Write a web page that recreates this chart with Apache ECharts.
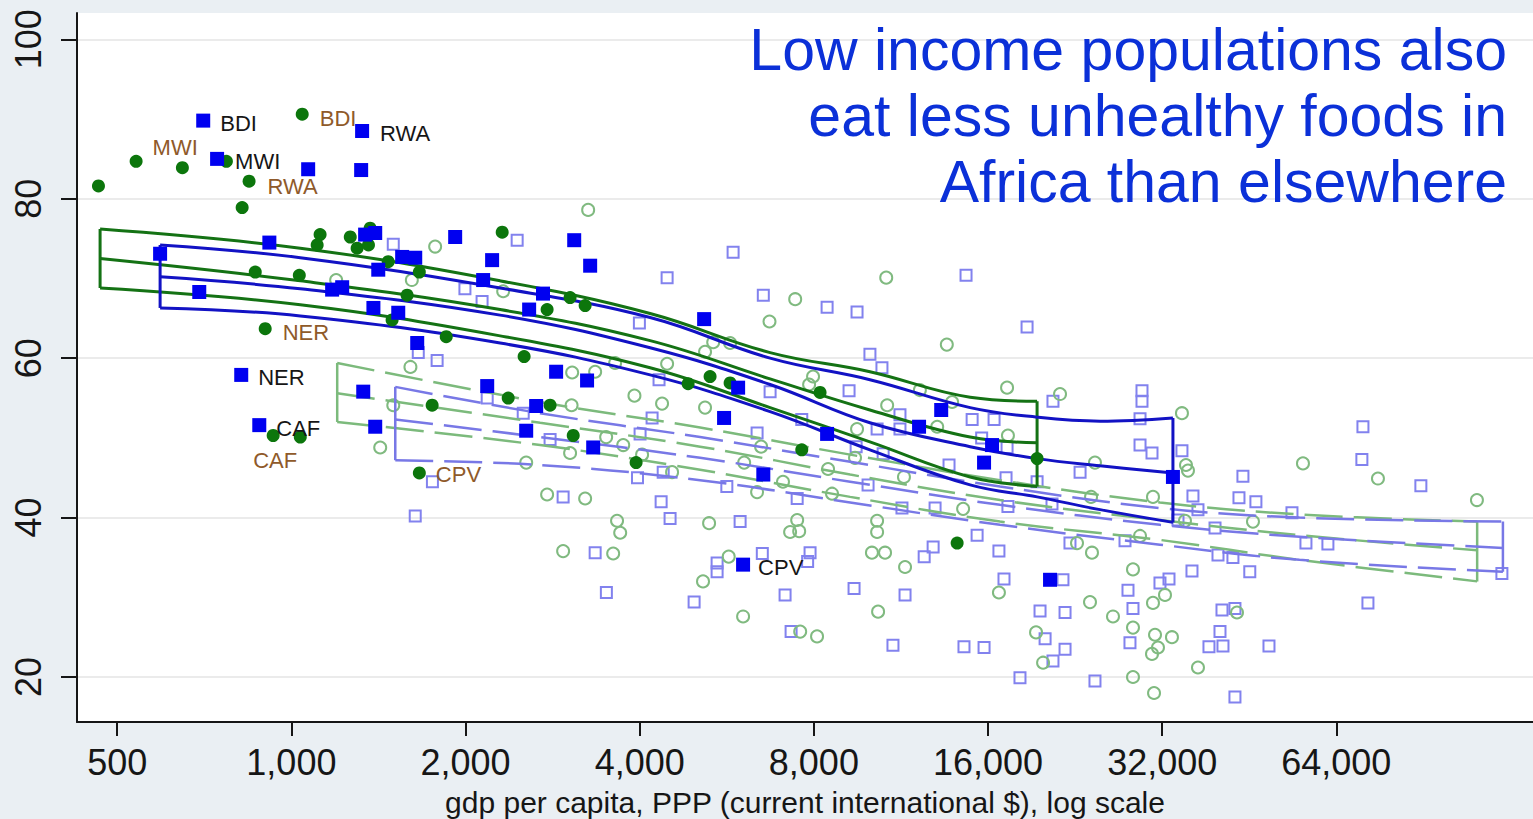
<!DOCTYPE html>
<html>
<head>
<meta charset="utf-8">
<title>Diet quality and income</title>
<script src="https://cdn.jsdelivr.net/npm/echarts@6/dist/echarts.min.js"></script>
<style>
  html, body { margin: 0; padding: 0; background: #eaeff3; }
  #chart { width: 1533px; height: 819px; }
</style>
</head>
<body>
<div id="chart"></div>
<script>
// ---- Axis ticks ----------------------------------------------------------
const xTicks = [500, 1000, 2000, 4000, 8000, 16000, 32000, 64000];
const yTicks = [20, 40, 60, 80, 100];
const xTitle = 'gdp per capita, PPP (current international $), log scale';
const headlineLines = ['Low income populations also', 'eat less unhealthy foods in', 'Africa than elsewhere'];

// ---- African countries: [gdp per capita, score, country code] ---------------
const africaSquares = [
  [704, 89.8, 'BDI'], [744, 85.0, 'MWI'], [1069, 83.7], [1325, 88.5, 'RWA'], [1320, 83.6],
  [916, 74.5], [593, 73.1], [693, 68.3], [1341, 75.5], [1396, 75.7], [1919, 75.2],
  [1554, 72.7], [1637, 72.6], [2223, 72.3], [1413, 71.1], [2145, 69.8], [1176, 68.6],
  [1224, 68.9], [1386, 66.3], [1530, 65.7], [2576, 66.1], [1650, 61.9], [3082, 74.8],
  [3284, 71.6], [2722, 68.1], [5169, 64.9], [2868, 58.3], [3244, 57.2], [2180, 56.5],
  [1331, 55.8], [1396, 51.4], [2649, 54.0], [2546, 50.9], [3324, 48.8], [819, 57.9, 'NER'],
  [880, 51.6, 'CAF'], [5918, 56.3], [5596, 52.5], [6542, 45.4], [6036, 34.1, 'CPV'],
  [8433, 50.5], [12160, 51.4], [13280, 53.5], [16260, 49.1], [15750, 46.9], [33400, 45.1],
  [20480, 32.2]
];
const africaDots = [
  [464, 81.6], [539, 84.7, 'MWI'], [648, 83.9], [772, 84.7], [845, 82.2, 'RWA'], [822, 78.9],
  [1044, 90.6, 'BDI'], [1121, 75.5], [1108, 74.2], [1264, 75.2], [1299, 73.8], [1359, 74.2],
  [1368, 76.3], [1470, 72.1], [1664, 70.8], [2314, 75.8], [866, 70.8], [1032, 70.4],
  [1585, 67.9], [1493, 64.8], [1852, 62.7], [901, 63.7, 'NER'], [2525, 60.2], [1751, 54.1],
  [2370, 55.0], [2800, 54.1], [930, 50.3, 'CAF'], [1036, 50.1], [1664, 45.6, 'CPV'],
  [3032, 67.6], [2767, 66.1], [3219, 66.6], [3070, 50.3], [3943, 46.9], [4850, 56.8],
  [5293, 57.7], [5732, 56.9], [8200, 55.7], [7624, 48.5], [14150, 36.8], [19450, 47.4]
];

// ---- Rest of the world: [gdp per capita, score] ------------------------------
const otherSquares = [
  [1500, 74.3], [2456, 74.8], [1995, 68.7], [2136, 67.1], [1657, 60.7], [1786, 59.7], [2180, 55.0],
  [1753, 44.5], [1637, 40.2], [5801, 73.3], [4461, 70.1], [6542, 67.9], [8433, 66.4], [9500, 65.8],
  [14660, 70.4], [3995, 64.4], [10000, 60.5], [10490, 58.8], [18690, 63.9], [4320, 57.3],
  [6721, 55.8], [9203, 55.9], [11270, 52.9], [11270, 51.1], [10290, 51.1], [15020, 52.3],
  [16390, 52.3], [7624, 52.3], [4202, 52.5], [4006, 50.5], [6382, 50.6], [2800, 49.8],
  [2516, 53.1], [4392, 45.7], [3965, 45.0], [5658, 43.9], [7486, 42.4], [9926, 44.1],
  [10540, 48.0], [9466, 48.9], [13700, 46.6], [11360, 41.2], [12960, 41.2], [17320, 41.4],
  [2949, 42.6], [4356, 42.0], [4514, 39.9], [5965, 39.5], [3350, 35.6], [6516, 35.5],
  [7880, 35.6], [7804, 34.5], [5443, 34.3], [5443, 33.2], [12410, 35.1], [12860, 36.3],
  [15320, 37.8], [16710, 35.8], [17050, 32.3], [3503, 30.6], [4967, 29.4], [7134, 30.3],
  [9388, 31.1], [11500, 30.3], [7307, 25.7], [10960, 24.0], [14540, 23.8], [15750, 23.7],
  [18170, 19.9], [15600, 50.0], [17260, 48.8], [17190, 45.0], [20720, 54.6], [29530, 55.9],
  [29530, 54.6], [29300, 52.4], [29300, 49.1], [30730, 48.1], [34620, 48.4], [23080, 45.7],
  [19450, 44.5], [20640, 41.7], [36170, 42.7], [36900, 41.0], [34080, 39.7], [27600, 37.1],
  [22170, 36.8], [21560, 32.2], [19680, 28.3], [21740, 28.1], [20080, 24.8], [21740, 23.5],
  [20720, 22.0], [24490, 19.5], [27930, 30.9], [28490, 28.6], [28150, 24.3], [31720, 31.8],
  [32880, 32.3], [36030, 33.3], [39490, 38.7], [39960, 35.3], [42410, 35.0], [45350, 33.2],
  [40600, 28.4], [42750, 28.6], [40280, 25.7], [38550, 23.8], [40760, 23.9], [48950, 23.9],
  [42750, 17.5], [53640, 40.6], [56710, 36.8], [61890, 36.7], [72580, 29.3], [123700, 33.0],
  [71150, 51.4], [70850, 47.3], [89600, 44.0], [44130, 45.2], [43440, 42.5], [46470, 42.0]
];
const otherDots = [
  [1772, 74.0], [1195, 69.8], [1615, 69.8], [2323, 68.4], [1606, 58.9], [1500, 54.1], [1424, 48.8],
  [3258, 78.6], [3057, 58.2], [3350, 58.3], [3627, 59.4], [4461, 59.3], [3917, 55.3], [4372, 54.3],
  [5188, 53.8], [3050, 54.1], [5359, 62.0], [5732, 61.9], [5188, 60.8], [7427, 67.4], [6705, 64.6],
  [10670, 70.1], [13580, 61.7], [12200, 56.0], [13870, 54.5], [17260, 56.3], [7974, 57.7],
  [7850, 56.7], [9500, 51.1], [10710, 54.1], [13070, 51.4], [3500, 50.1], [3032, 48.1],
  [3746, 49.1], [4038, 47.9], [2546, 46.9], [2767, 42.9], [3219, 42.4], [3655, 39.6], [3701, 38.1],
  [2949, 35.8], [3599, 35.5], [5272, 39.3], [4550, 45.7], [6062, 46.9], [6485, 48.9], [6382, 43.2],
  [7075, 44.5], [7486, 39.7], [7546, 38.3], [7278, 38.2], [8465, 46.1], [8600, 43.0], [10290, 39.6],
  [10290, 38.2], [10080, 35.6], [10620, 35.6], [11500, 33.8], [9424, 47.5], [11450, 45.1],
  [14490, 41.1], [16710, 30.6], [10330, 28.2], [5700, 35.1], [5146, 32.0], [6036, 27.6],
  [7576, 25.7], [8102, 25.1], [17320, 50.3], [21310, 55.5], [34620, 53.1], [24490, 46.9],
  [35180, 46.6], [35460, 45.9], [30850, 42.6], [24110, 42.6], [29300, 37.7], [22800, 36.8],
  [24200, 35.6], [45930, 39.5], [35040, 39.6], [28490, 33.5], [24010, 29.4], [26310, 27.6],
  [28490, 26.2], [30850, 29.3], [32360, 30.3], [19370, 25.6], [19920, 21.8], [31100, 25.3],
  [33270, 25.0], [31470, 23.7], [30730, 22.9], [28490, 20.0], [30980, 18.0], [36900, 21.2],
  [43100, 28.1], [56040, 46.8], [75530, 44.9], [112000, 42.2]
];

// ---- Local fits with confidence bands ----------------------------------------
const africaDotsFitGdp   = [467, 1036, 2295, 4169, 6721, 10000, 14900, 19450];
const africaDotsUpper    = [76.2, 73.8, 69.7, 65.6, 60.7, 58.3, 55.1, 54.6];
const africaDotsFit      = [72.5, 69.7, 66.1, 62.2, 57.4, 53.5, 50.1, 49.4];
const africaDotsLower    = [68.8, 66.7, 62.8, 58.8, 53.8, 49.5, 45.1, 43.9];

const africaSquaresFitGdp = [593, 1036, 2295, 4169, 6721, 10000, 14900, 19450, 24990, 33400];
const africaSquaresUpper  = [74.2, 72.6, 68.8, 65.1, 60.0, 57.3, 53.8, 52.6, 52.1, 52.5];
const africaSquaresFit    = [70.2, 68.7, 65.4, 61.3, 56.7, 51.9, 48.9, 47.4, 46.5, 45.6];
const africaSquaresLower  = [66.3, 65.3, 61.9, 57.9, 53.3, 48.5, 44.1, 42.6, 41.0, 39.4];

const otherDotsFitGdp = [1200, 2691, 5087, 9243, 16780, 31720, 55260, 112100];
const otherDotsUpper  = [59.4, 54.5, 51.3, 47.9, 44.7, 41.9, 40.4, 39.5];
const otherDotsFit    = [55.6, 51.9, 48.9, 45.4, 42.2, 39.7, 37.8, 35.9];
const otherDotsLower  = [52.0, 49.1, 46.0, 42.6, 39.5, 37.2, 34.7, 32.0];

const otherSquaresFitGdp = [1512, 2691, 5087, 9243, 16780, 31720, 55260, 124200];
const otherSquaresUpper  = [56.4, 53.1, 50.1, 47.0, 43.9, 41.2, 40.0, 39.5];
const otherSquaresFit    = [52.3, 50.1, 47.5, 44.5, 41.6, 39.1, 37.6, 36.2];
const otherSquaresLower  = [47.2, 46.6, 44.7, 41.9, 39.1, 36.6, 34.7, 33.2];

// ---- Styling ----------------------------------------------------------------
const FONT = '"Liberation Sans", Arial, Helvetica, sans-serif';
const INK = '#161616';
const C = {
  afrSq: '#0000f0', afrDot: '#0c760c',
  othSq: '#8282ee', othDot: '#80ba80',
  afrSqLine: '#1212c4', afrDotLine: '#147214',
  othSqLine: '#7878e6', othDotLine: '#7cba7c',
  codeSq: INK, codeDot: '#8f5a2a',
  headline: '#0b30d8'
};

// where each country code sits relative to its marker
const squareCodePlacement = {
  BDI: { position: 'right', distance: 10, offset: [0, 3] },
  MWI: { position: 'right', distance: 11, offset: [0, 3] },
  RWA: { position: 'right', distance: 11, offset: [0, 3] },
  NER: { position: 'right', distance: 10, offset: [0, 3] },
  CAF: { position: 'right', distance: 10, offset: [0, 3] },
  CPV: { position: 'right', distance: 8, offset: [0, 3] }
};
const dotCodePlacement = {
  BDI: { position: 'right', distance: 11, offset: [0, 4] },
  MWI: { position: 'right', distance: 10, offset: [0, -14] },
  RWA: { position: 'right', distance: 12, offset: [0, 5] },
  NER: { position: 'right', distance: 11, offset: [0, 4] },
  CAF: { position: 'bottom', distance: 8, offset: [2, 0] },
  CPV: { position: 'right', distance: 10, offset: [0, 2] }
};

function toItems(rows, placement, color) {
  return rows.map(r => {
    const item = { value: [r[0], r[1]] };
    if (r[2]) {
      item.name = r[2];
      item.label = Object.assign({
        show: true, formatter: r[2], color: color,
        fontSize: 22, fontFamily: FONT
      }, placement[r[2]]);
    }
    return item;
  });
}

function scatter(name, data, symbol, size, style, z) {
  return {
    name, type: 'scatter', data, symbol, symbolSize: size,
    itemStyle: Object.assign({ opacity: 1 }, style), z, silent: true, label: { show: false }
  };
}

function band(name, gdp, upper, fit, lower, color, width, dashed, z) {
  const zip = ys => gdp.map((g, i) => [g, ys[i]]);
  const n = gdp.length - 1;
  const curve = { color, width, type: dashed ? [38, 11] : 'solid', cap: 'butt' };
  const edge = { color, width, type: 'solid' };
  const base = { type: 'line', symbol: 'none', showSymbol: false, silent: true, z };
  return [
    Object.assign({ name: name + ' upper', data: zip(upper), smooth: 0.4, lineStyle: curve }, base),
    Object.assign({ name: name + ' fit',   data: zip(fit),   smooth: 0.4, lineStyle: curve }, base),
    Object.assign({ name: name + ' lower', data: zip(lower), smooth: 0.4, lineStyle: curve }, base),
    Object.assign({ name: name + ' start', data: [[gdp[0], upper[0]], [gdp[0], lower[0]]], lineStyle: edge }, base),
    Object.assign({ name: name + ' end',   data: [[gdp[n], upper[n]], [gdp[n], lower[n]]], lineStyle: edge }, base)
  ];
}

const series = [].concat(
  scatter('Other, squares', otherSquares.map(r => [r[0], r[1]]), 'rect', 11,
          { color: 'rgba(255,255,255,0)', borderColor: C.othSq, borderWidth: 2 }, 2),
  scatter('Other, circles', otherDots.map(r => [r[0], r[1]]), 'circle', 12,
          { color: 'rgba(255,255,255,0)', borderColor: C.othDot, borderWidth: 2 }, 2),
  band('Other circles', otherDotsFitGdp, otherDotsUpper, otherDotsFit, otherDotsLower, C.othDotLine, 2.5, true, 3),
  band('Other squares', otherSquaresFitGdp, otherSquaresUpper, otherSquaresFit, otherSquaresLower, C.othSqLine, 2.5, true, 3),
  band('Africa circles', africaDotsFitGdp, africaDotsUpper, africaDotsFit, africaDotsLower, C.afrDotLine, 3, false, 4),
  band('Africa squares', africaSquaresFitGdp, africaSquaresUpper, africaSquaresFit, africaSquaresLower, C.afrSqLine, 3, false, 4),
  scatter('Africa, circles', toItems(africaDots, dotCodePlacement, C.codeDot), 'circle', 13,
          { color: C.afrDot }, 5),
  scatter('Africa, squares', toItems(africaSquares, squareCodePlacement, C.codeSq), 'rect', 14,
          { color: C.afrSq }, 5)
);

// three right-aligned headline lines
const headline = headlineLines.map((t, i) => ({
  type: 'text', x: 1507, y: 20 + i * 66, z: 10, silent: true,
  style: {
    text: t, align: 'right', verticalAlign: 'top',
    fontSize: 59, fontFamily: FONT, fill: C.headline
  }
}));

const chart = echarts.init(document.getElementById('chart'), null, { renderer: 'svg' });
chart.setOption({
  animation: false,
  backgroundColor: '#eaeff3',
  textStyle: { fontFamily: FONT },
  grid: {
    left: 77, right: 0, top: 13, bottom: 97,
    show: true, backgroundColor: '#ffffff', borderWidth: 0,
    outerBoundsMode: 'none'
  },
  xAxis: {
    type: 'log', logBase: 2, min: 426, max: 140000,
    axisLine: { show: true, onZero: false, lineStyle: { color: INK, width: 2 } },
    axisTick: { show: true, customValues: xTicks, length: 14, lineStyle: { color: INK, width: 2 } },
    axisLabel: {
      customValues: xTicks, margin: 22, fontSize: 36, color: INK, fontFamily: FONT,
      formatter: v => Math.round(v).toLocaleString('en-US')
    },
    splitLine: { show: false },
    minorTick: { show: false },
    name: xTitle, nameLocation: 'middle', nameGap: 65,
    nameTextStyle: { fontSize: 30, color: INK, fontFamily: FONT }
  },
  yAxis: {
    type: 'value', min: 14.36, max: 103.3,
    axisLine: { show: true, lineStyle: { color: INK, width: 2 } },
    axisTick: { show: true, customValues: yTicks, length: 16, lineStyle: { color: INK, width: 2 } },
    axisLabel: { customValues: yTicks, rotate: 90, margin: 31, fontSize: 36, color: INK, fontFamily: FONT },
    splitLine: { show: true, lineStyle: { color: '#ebebeb', width: 2 } }
  },
  graphic: headline,
  series
});
</script>
</body>
</html>
